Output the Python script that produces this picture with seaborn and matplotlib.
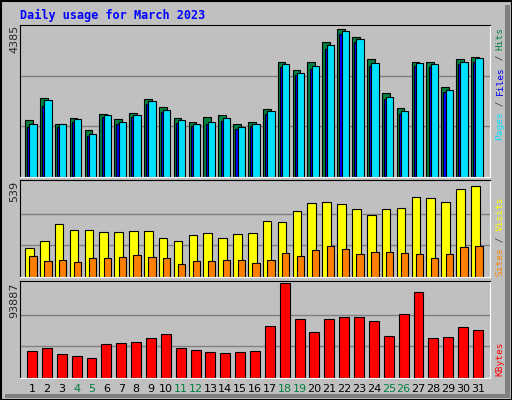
import numpy as np
import seaborn as sns
import matplotlib.pyplot as plt
from matplotlib.patches import Rectangle

days = list(range(1, 32))
weekend = [4, 5, 11, 12, 18, 19, 25, 26]
hits = [1630, 2270, 1540, 1690, 1370, 1830, 1660, 1860, 2240, 2010, 1690, 1600, 1720, 1780, 1520, 1600, 1950, 3310, 3080, 3310, 3890, 4270, 4040, 3400, 2410, 1980, 3310, 3310, 2600, 3400, 3460]
files = [1520, 2210, 1520, 1660, 1230, 1780, 1600, 1780, 2180, 1940, 1630, 1540, 1600, 1690, 1440, 1540, 1890, 3250, 3010, 3200, 3800, 4210, 3980, 3280, 2320, 1890, 3280, 3250, 2520, 3330, 3420]
pages = [1440, 2040, 1450, 1600, 1170, 1720, 1540, 1720, 2100, 1880, 1570, 1480, 1520, 1620, 1380, 1480, 1820, 3180, 2940, 3120, 3700, 4130, 3900, 3200, 2240, 1830, 3190, 3170, 2450, 3250, 3330]
visits = [165, 204, 300, 266, 266, 255, 255, 260, 260, 221, 204, 238, 249, 221, 243, 249, 316, 311, 372, 417, 423, 412, 384, 350, 384, 389, 451, 445, 423, 501, 517]
sites = [120, 92, 97, 86, 109, 109, 114, 125, 114, 109, 75, 92, 92, 97, 97, 80, 97, 137, 120, 154, 176, 159, 131, 142, 142, 137, 131, 109, 131, 170, 176]
kbytes = [26400, 29500, 24000, 21900, 19900, 33600, 34600, 35600, 39800, 43900, 29500, 27400, 25300, 24300, 25300, 26400, 51100, 93887, 57800, 45500, 57800, 59900, 59900, 55800, 41800, 63000, 84600, 39800, 40800, 50100, 47100]
ymax = [4385, 539, 93887]

BG = '#C0C0C0'
sns.set_style('white')
plt.rcParams['font.family'] = ['DejaVu Sans']

fig = plt.figure(figsize=(5.12, 4.0), dpi=100, facecolor=BG)
W, H = 512, 400

def mkax(top, bottom):
    ax = fig.add_axes([20 / W, 1 - bottom / H, 470 / W, (bottom - top) / H])
    ax.set_facecolor(BG)
    ax.set_xlim(0.19, 31.81)
    ax.set_xticks([])
    ax.set_yticks([])
    for s in ['left', 'top']:
        ax.spines[s].set_color('black')
    for s in ['right', 'bottom']:
        ax.spines[s].set_color('white')
    return ax

d = np.array(days)
ax1 = mkax(25, 177)
ax1.set_ylim(0, ymax[0] * 1.0)
for v in (ymax[0] / 3, ymax[0] * 2 / 3):
    ax1.axhline(v, color='#808080', lw=1, zorder=0)
ax1.bar(d - 0.21, hits, width=0.52, color='#008040', edgecolor='black', lw=0.8)
ax1.bar(d - 0.07, pages, width=0.5, color='#0000FF', edgecolor='black', lw=0.8)
ax1.bar(d + 0.07, files, width=0.49, color='#00E0FF', edgecolor='black', lw=0.8)

ax2 = mkax(180, 277)
ax2.set_ylim(0, ymax[1] * 1.02)
for v in (ymax[1] / 3, ymax[1] * 2 / 3):
    ax2.axhline(v, color='#808080', lw=1, zorder=0)
ax2.bar(d - 0.18, visits, width=0.58, color='#FFFF00', edgecolor='black', lw=0.8)
ax2.bar(d + 0.07, sites, width=0.49, color='#FF8000', edgecolor='black', lw=0.8)

ax3 = mkax(281, 378)
ax3.set_ylim(0, ymax[2] * 1.02)
for v in (ymax[2] / 3, ymax[2] * 2 / 3):
    ax3.axhline(v, color='#808080', lw=1, zorder=0)
sns.barplot(x=d, y=kbytes, native_scale=True, color='#FF0000', saturation=1,
            edgecolor='black', linewidth=0.8, width=0.67, ax=ax3)
ax3.set_xlim(0.19, 31.81)
ax3.set_xticks([])
ax3.set_yticks([])

# day labels
for i, day in enumerate(days):
    x = 20 + (day - 0.19) / 31.62 * 470
    fig.text(x / W, 1 - 389 / H, str(day), ha='center', va='center', fontsize=8,
             color='#008040' if day in weekend else 'black')

fig.text(20 / W, 1 - 15 / H, 'Daily usage for March 2023', ha='left', va='center',
         fontsize=8.5, fontweight='bold', family='DejaVu Sans Mono', color='#0000FF')

for (y, t) in [(25, str(ymax[0])), (181, str(ymax[1])), (282, str(ymax[2]))]:
    fig.text(14 / W, 1 - y / H, t, rotation=90, ha='center', va='top', fontsize=8)

FS = 6.8
def side_label(parts, bottom):
    y = bottom
    for txt, col in parts:
        h = len(txt) * FS * 100 / 72 * 0.6
        fig.text(500 / W, 1 - (y - h / 2) / H, txt, rotation=90, ha='center', va='center',
                 fontsize=FS, family='DejaVu Sans Mono', color=col)
        y -= h

side_label([('Pages', '#00E0FF'), (' / ', '#404040'), ('Files', '#0000FF'),
            (' / ', '#404040'), ('Hits', '#008040')], 140)
side_label([('Sites', '#FF8000'), (' / ', '#404040'), ('Visits', '#FFFF00')], 276)
side_label([('KBytes', '#FF0000')], 376)

# outer frame
fig.patches.append(Rectangle((0.5 / W, 0.5 / H), 1 - 1 / W, 1 - 1 / H, transform=fig.transFigure,
                             fill=False, edgecolor='black', lw=1.5))
fig.patches.append(Rectangle((505 / W, 2 / H), 5 / W, 1 - 7 / H, transform=fig.transFigure,
                             facecolor='#808080', edgecolor='none'))
fig.patches.append(Rectangle((5 / W, 2 / H), 1 - 7 / W, 4 / H, transform=fig.transFigure,
                             facecolor='#808080', edgecolor='none'))

fig.savefig('out.png', dpi=100, facecolor=BG)
